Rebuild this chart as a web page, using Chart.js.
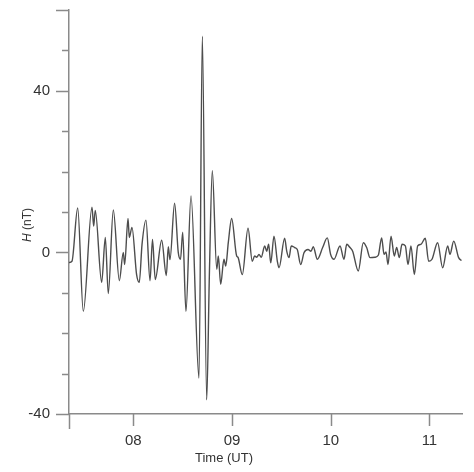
<!DOCTYPE html>
<html>
<head>
<meta charset="utf-8">
<script src="https://cdn.jsdelivr.net/npm/chart.js@4.4.1/dist/chart.umd.min.js"></script>
<style>
  html, body { margin: 0; padding: 0; background: #fff; }
  #wrap { position: relative; width: 474px; height: 472px; }
  .axis-title { position: absolute; font-family: "Liberation Sans", Arial, sans-serif; color: #333; white-space: nowrap; }
  #x-title { left: 224px; top: 457px; font-size: 13px; transform: translate(-50%, -50%); }
  #y-title { left: 27px; top: 225px; font-size: 12px; transform: translate(-50%, -50%) rotate(-90deg); }
</style>
</head>
<body>
<div id="wrap">
  <canvas id="chart"></canvas>
  <div class="axis-title" id="x-title">Time (UT)</div>
  <div class="axis-title" id="y-title"><i>H</i> (nT)</div>
</div>
<script>
// ── data: time in decimal hours (UT), H in nT ──
const TIME_HOURS = [
  7.348, 7.378, 7.436, 7.493, 7.581, 7.598, 7.614, 7.679, 7.716, 7.746,
  7.797, 7.858, 7.898, 7.912, 7.946, 7.959, 7.986, 8.033, 8.060, 8.088,
  8.128, 8.169, 8.194, 8.222, 8.287, 8.334, 8.354, 8.371, 8.418, 8.455,
  8.478, 8.500, 8.533, 8.584, 8.665, 8.699, 8.743, 8.770, 8.800, 8.845,
  8.861, 8.885, 8.918, 8.936, 8.962, 8.996, 9.047, 9.060, 9.104, 9.162,
  9.205, 9.229, 9.250, 9.273, 9.296, 9.331, 9.351, 9.371, 9.392, 9.425,
  9.459, 9.476, 9.533, 9.554, 9.577, 9.600, 9.635, 9.661, 9.696, 9.729,
  9.770, 9.800, 9.823, 9.864, 9.918, 9.965, 9.999, 10.033, 10.094, 10.134,
  10.162, 10.195, 10.222, 10.279, 10.330, 10.364, 10.398, 10.448, 10.482, 10.516,
  10.540, 10.560, 10.580, 10.611, 10.644, 10.668, 10.695, 10.722, 10.756, 10.783,
  10.813, 10.847, 10.881, 10.914, 10.958, 10.992, 11.026, 11.083, 11.134, 11.185,
  11.208, 11.246, 11.296, 11.325
];
const H_NT = [
  -2.5, -2.2, 11, -14.6, 11.2, 6.5, 10.4, -7.4, 3.7, -10.2,
  10.5, -7, 0, -3, 8.4, 3.7, 6.2, -5.5, -7.4, 2,
  8, -7, 3.2, -6.7, 3, -5.7, 1.4, -1.8, 12.2, 0,
  -1.7, 5, -14.6, 14, -31.1, 53.5, -36.5, -5.9, 20.2, -4.2,
  -0.9, -7.9, -1.7, -3.4, 2.4, 8.4, -0.9, -1.2, -5.5, 6,
  -2.2, -0.9, -1.2, -0.5, -1.2, 1.6, 0.3, 2, -2.6, 4,
  -2.2, -3.8, 3.5, 0.3, -1.3, 1.6, 1.2, 0.7, -3, -0.1,
  0.7, 0.3, 1.4, -1.7, 1.2, 3.6, -0.5, -1.7, 1.6, -1.7,
  2, 1.2, 0.3, -4.6, 2.4, 1.2, -1.3, -1.2, -0.7, 3.6,
  -0.5, 0.1, -3, 4, -0.9, 1.2, -1.3, 2, 1.6, -3,
  1.6, -5.5, 1.6, 2, 3.5, -2.2, -1.7, 2.4, -3.8, 1.6,
  -0.5, 2.8, -1.3, -2
];

// ── axes ──
const X_MIN = 7.348, X_MAX = 11.33;
const X_TICKS  = [8, 9, 10, 11];
const X_LABELS = ['08', '09', '10', '11'];
const Y_MIN = -40, Y_MAX = 60;
const Y_TICKS   = [-40, -30, -20, -10, 0, 10, 20, 30, 40, 50, 60];
const Y_MAJOR   = [-40, 0, 40, 60];
const Y_LABELED = [-40, 0, 40];

const AXIS = '#8a8a8a';
const TEXT = '#333';
const FONT = '"Liberation Sans", Arial, sans-serif';

// tick marks (major long, minor short) drawn off the scales
const tickMarks = {
  id: 'tickMarks',
  afterDraw(chart) {
    const { ctx, chartArea: a, scales: { x, y } } = chart;
    ctx.save();
    ctx.strokeStyle = AXIS;
    ctx.lineWidth = 1.5;
    ctx.beginPath();
    Y_TICKS.forEach(v => {
      const py = Math.round(y.getPixelForValue(v)) + 0.5;
      const len = Y_MAJOR.includes(v) ? 13 : 7;
      ctx.moveTo(a.left - len, py);
      ctx.lineTo(a.left, py);
    });
    [x.min, ...X_TICKS].forEach(v => {
      const px = Math.round(x.getPixelForValue(v)) + 0.5;
      ctx.moveTo(px, a.bottom);
      ctx.lineTo(px, a.bottom + (v === x.min ? 15 : 12));
    });
    ctx.stroke();
    ctx.restore();
  }
};

// fixed box sizes so the plot area lands where the original has it
const fixBox = (size) => s => {
  if (s.isHorizontal()) s.height = size; else s.width = size;
  s.paddingTop = s.paddingBottom = s.paddingLeft = s.paddingRight = 0;
};

new Chart(document.getElementById('chart'), {
  type: 'line',
  data: {
    datasets: [{
      data: TIME_HOURS.map((t, i) => ({ x: t, y: H_NT[i] })),
      borderColor: '#4d4d4d',
      borderWidth: 1.4,
      pointRadius: 0,
      cubicInterpolationMode: 'monotone',
      fill: false,
    }],
  },
  options: {
    responsive: true,
    maintainAspectRatio: false,
    animation: false,
    layout: { padding: { top: 10, right: 12, left: 0, bottom: 0 } },
    plugins: { legend: { display: false }, tooltip: { enabled: false } },
    scales: {
      x: {
        type: 'linear',
        min: X_MIN,
        max: X_MAX,
        afterBuildTicks: s => { s.ticks = X_TICKS.map(v => ({ value: v })); },
        afterFit: fixBox(58),
        ticks: {
          autoSkip: false,
          maxRotation: 0,
          padding: 6,
          color: TEXT,
          font: { family: FONT, size: 15 },
          callback: v => X_LABELS[X_TICKS.indexOf(v)] ?? '',
        },
        grid: { display: false, tickLength: 12 },
        border: { display: true, color: AXIS, width: 1.5 },
      },
      y: {
        min: Y_MIN,
        max: Y_MAX,
        afterBuildTicks: s => { s.ticks = Y_LABELED.map(v => ({ value: v })); },
        afterFit: fixBox(69),
        ticks: {
          padding: 6,
          color: TEXT,
          font: { family: FONT, size: 15 },
        },
        grid: { display: false, tickLength: 13 },
        border: { display: true, color: AXIS, width: 1.5 },
      },
    },
  },
  plugins: [tickMarks],
});
</script>
</body>
</html>
